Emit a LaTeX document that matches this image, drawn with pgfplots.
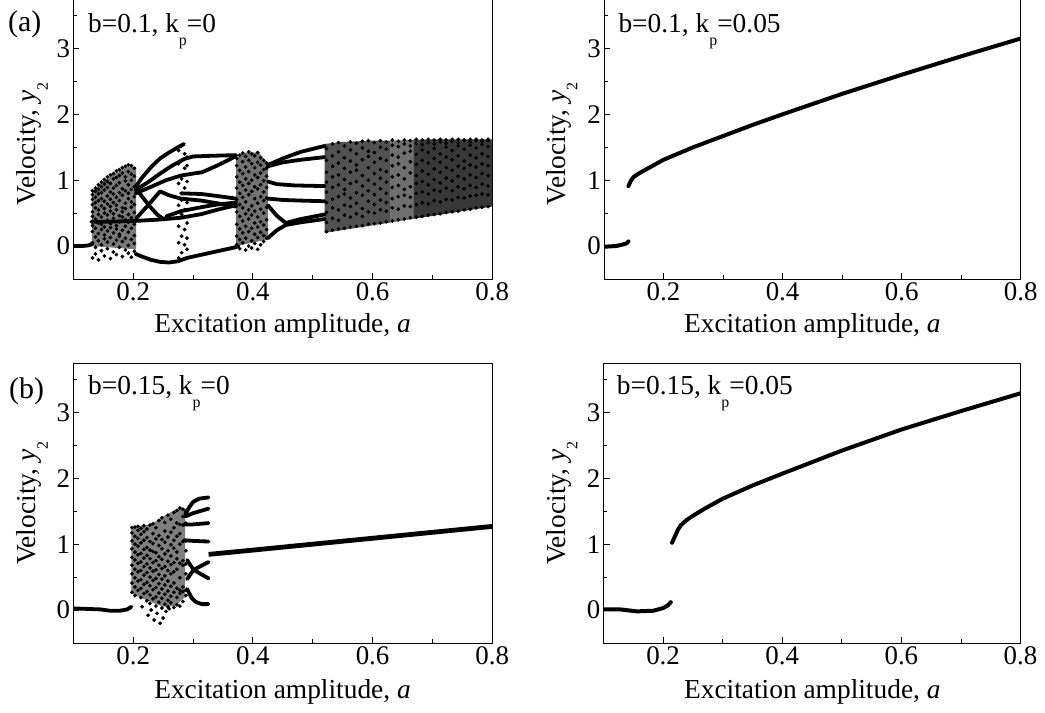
\documentclass[border=0pt]{standalone}
\usepackage{pgfplots}
\pgfplotsset{compat=1.18}
\usepackage{pgfplotstable}
\usepackage{fontspec}
\setmainfont{Liberation Serif}
\newcommand{\sub}[1]{\raisebox{-0.45em}{\fontsize{16}{16}\selectfont #1}}
\newcommand{\lbl}{\fontsize{27.5}{30}\selectfont}

\pgfplotsset{
 panel/.style={
  scale only axis, width=419bp, height=280bp,
  xmin=0.1,xmax=0.8,ymin=-0.5,ymax=3.75,
  xtick={0.2,0.4,0.6,0.8}, xticklabels={0.2,0.4,0.6,0.8},
  minor xtick={0.3,0.5,0.7},
  ytick={0,1,2,3}, yticklabels={0,1,2,3},
  minor ytick={0.5,1.5,2.5,3.5},
  tick align=inside, tick pos=left,
  major tick length=6bp, minor tick length=3.5bp,
  every tick/.style={black, line width=0.8bp},
  axis line style={line width=0.9bp},
  ticklabel style={font=\fontsize{27}{27}\selectfont},
  yticklabel style={inner xsep=3bp},
 },
 br/.style={black, line width=3.8bp, line join=round, line cap=round},
 dots/.style={only marks, mark=*, mark size=1.7bp, mark options={fill=black, draw=none}},
 band/.style={fill=black, draw=none},
}

% ---------- panel (a) left, chaotic dots ----------
\pgfplotstableread{
x y1 y2 y3 y4 y5 y6 y7 y8 y9 y10
0.132 -0.18 0.05 0.22 0.31 0.45 0.52 0.63 0.71 0.78 0.84
0.137 -0.12 -0.02 0.14 0.27 0.41 0.58 0.66 0.74 0.83 0.88
0.142 -0.21 0.08 0.19 0.35 0.48 0.55 0.69 0.79 0.86 0.93
0.147 -0.07 0.02 0.25 0.33 0.44 0.61 0.72 0.81 0.90 0.97
0.152 -0.15 0.11 0.17 0.29 0.50 0.57 0.68 0.85 0.94 1.01
0.157 -0.04 0.06 0.23 0.39 0.47 0.64 0.76 0.89 0.98 1.05
0.162 -0.19 0.13 0.28 0.34 0.53 0.60 0.71 0.82 0.95 1.08
0.167 -0.09 0.03 0.20 0.42 0.49 0.66 0.79 0.88 1.02 1.10
0.172 -0.13 0.09 0.26 0.31 0.55 0.62 0.74 0.92 1.04 1.14
0.177 -0.02 0.15 0.18 0.37 0.46 0.69 0.81 0.96 1.07 1.16
0.182 -0.16 0.07 0.24 0.44 0.52 0.58 0.77 0.87 1.11 1.19
0.187 -0.06 0.12 0.30 0.40 0.57 0.65 0.84 0.99 1.05 1.21
0.192 -0.11 0.01 0.21 0.36 0.48 0.72 0.80 0.93 1.13 1.23
0.197 -0.17 0.10 0.27 0.43 0.59 0.67 0.86 1.00 1.09 1.22
0.202 -0.08 0.04 0.16 0.33 0.51 0.63 0.75 0.90 1.06 1.18
}\tlA
\pgfplotstableread{
x y1 y2 y3 y4 y5 y6 y7
0.276 -0.18 0.05 0.30 0.62 0.95 1.25 1.45
0.281 -0.10 0.15 0.48 0.70 1.02 1.30 1.52
0.286 -0.20 0.02 0.25 0.55 0.88 1.18 1.40
0.290 -0.05 0.12 0.35 0.66 0.98 1.22 1.35
}\tlB
\pgfplotstableread{
x y1 y2 y3 y4 y5 y6 y7 y8 y9
0.373 0.02 0.15 0.33 0.52 0.70 0.88 1.05 1.22 1.33
0.378 -0.04 0.10 0.26 0.45 0.63 0.80 0.97 1.15 1.38
0.383 0.05 0.20 0.38 0.58 0.74 0.92 1.10 1.28 1.41
0.388 -0.06 0.12 0.30 0.49 0.67 0.85 1.02 1.20 1.36
0.393 0.00 0.22 0.41 0.55 0.78 0.95 1.13 1.30 1.43
0.398 -0.03 0.08 0.27 0.47 0.61 0.83 1.00 1.25 1.40
0.403 0.04 0.18 0.35 0.53 0.72 0.90 1.08 1.19 1.37
0.408 -0.05 0.13 0.29 0.44 0.65 0.87 1.04 1.27 1.42
0.413 0.02 0.21 0.37 0.56 0.75 0.93 1.11 1.23 1.34
0.418 0.07 0.16 0.32 0.50 0.69 0.82 0.99 1.16 1.30
0.423 0.12 0.25 0.40 0.59 0.73 0.89 1.06 1.18 1.26
}\tlC
\pgfplotstableread{
x y1 y2 y3 y4 y5 y6 y7 y8 y9
0.523 0.22 0.36 0.51 0.66 0.82 0.97 1.12 1.30 1.48
0.533 0.24 0.42 0.58 0.71 0.89 1.05 1.21 1.37 1.55
0.543 0.26 0.39 0.55 0.75 0.93 1.08 1.26 1.43 1.57
0.553 0.27 0.47 0.62 0.79 0.86 1.01 1.18 1.34 1.52
0.563 0.29 0.44 0.60 0.73 0.95 1.12 1.29 1.46 1.58
0.573 0.30 0.49 0.65 0.81 0.98 1.15 1.23 1.40 1.56
0.583 0.31 0.45 0.57 0.77 0.91 1.07 1.31 1.49 1.59
0.593 0.33 0.52 0.68 0.84 1.00 1.19 1.36 1.44 1.60
0.603 0.34 0.50 0.63 0.78 0.94 1.10 1.27 1.42 1.57
0.613 0.35 0.55 0.70 0.87 1.03 1.16 1.33 1.50 1.60
0.623 0.37 0.53 0.66 0.80 0.97 1.13 1.30 1.47 1.58
0.633 0.38 0.58 0.72 0.89 1.05 1.22 1.38 1.53 1.61
0.643 0.40 0.56 0.75 0.92 1.08 1.25 1.35 1.51 1.59
0.653 0.41 0.61 0.77 0.86 1.02 1.19 1.41 1.55 1.61
0.663 0.43 0.60 0.74 0.90 1.11 1.28 1.44 1.52 1.60
0.673 0.44 0.63 0.80 0.95 1.07 1.24 1.39 1.56 1.62
0.683 0.45 0.66 0.82 0.98 1.14 1.30 1.46 1.54 1.61
0.693 0.47 0.64 0.79 0.93 1.09 1.26 1.42 1.57 1.62
0.703 0.48 0.69 0.85 1.01 1.17 1.33 1.48 1.55 1.61
0.713 0.49 0.67 0.83 0.96 1.12 1.27 1.40 1.58 1.62
0.723 0.51 0.71 0.88 1.03 1.19 1.35 1.50 1.56 1.61
0.733 0.52 0.70 0.84 0.99 1.15 1.31 1.45 1.59 1.62
0.743 0.53 0.74 0.90 1.06 1.21 1.37 1.52 1.57 1.62
0.753 0.55 0.73 0.87 1.02 1.18 1.29 1.47 1.60 1.61
0.763 0.56 0.76 0.92 1.08 1.23 1.38 1.53 1.58 1.62
0.773 0.58 0.77 0.89 1.04 1.20 1.34 1.49 1.60 1.62
0.783 0.59 0.79 0.94 1.10 1.25 1.40 1.54 1.59 1.61
0.793 0.60 0.78 0.91 1.07 1.22 1.36 1.51 1.60 1.62
}\tlD
% ---------- panel (b) left, chaotic dots ----------
\pgfplotstableread{
x y1 y2 y3 y4 y5 y6 y7 y8 y9
0.198 0.27 0.41 0.55 0.68 0.80 0.93 1.05 1.17 1.25
0.203 0.22 0.35 0.49 0.62 0.76 0.88 1.00 1.12 1.26
0.208 0.30 0.44 0.58 0.71 0.84 0.97 1.09 1.21 1.27
0.213 0.19 0.33 0.46 0.60 0.73 0.86 1.02 1.15 1.24
0.218 0.25 0.39 0.53 0.66 0.79 0.92 1.06 1.19 1.28
0.223 0.14 0.28 0.42 0.57 0.70 0.83 0.95 1.10 1.23
0.228 0.10 0.23 0.37 0.50 0.64 0.78 0.91 1.04 1.29
0.233 0.17 0.31 0.45 0.59 0.72 0.89 1.01 1.16 1.31
0.238 0.06 0.20 0.34 0.48 0.61 0.75 0.87 1.08 1.25
0.243 0.12 0.26 0.40 0.54 0.68 0.81 0.98 1.13 1.36
0.248 0.03 0.18 0.32 0.47 0.63 0.77 0.93 1.07 1.40
0.253 0.09 0.24 0.38 0.52 0.66 0.85 1.03 1.20 1.33
0.258 0.05 0.15 0.29 0.44 0.60 0.74 0.90 1.11 1.44
0.263 0.11 0.21 0.36 0.55 0.69 0.82 0.99 1.18 1.38
0.268 0.04 0.27 0.41 0.58 0.72 0.94 1.06 1.25 1.48
0.273 0.08 0.19 0.33 0.62 0.78 0.88 1.12 1.32 1.51
0.278 0.06 0.25 0.30 0.49 0.71 1.00 1.16 1.30 1.55
0.283 0.13 0.28 0.35 0.68 0.75 1.04 1.29 1.42 1.53
0.288 0.22 0.30 0.55 0.70 0.90 1.05 1.32 1.46 1.50
}\blA

\begin{document}
\begin{tikzpicture}
\useasboundingbox (0,0) rectangle (1045bp,713bp);

% ================= (a) left: b=0.1, kp=0 =================
\begin{axis}[panel, at={(73.3bp,434bp)}, anchor=south west]
\addplot[band, fill opacity=0.52] coordinates {(0.131,0.0) (0.131,0.82) (0.145,0.95) (0.16,1.05) (0.175,1.13) (0.19,1.2) (0.205,1.2) (0.205,-0.05)} -- cycle;
\addplot[band, fill opacity=0.55] coordinates {(0.372,0.0) (0.372,1.33) (0.385,1.42) (0.41,1.42) (0.425,1.25) (0.425,0.1)} -- cycle;
\addplot[band, fill opacity=0.68] coordinates {(0.52,0.2) (0.52,1.55) (0.55,1.58) (0.6,1.6) (0.63,1.6) (0.63,0.357)} -- cycle;
\addplot[band, fill opacity=0.56] coordinates {(0.63,0.357) (0.63,1.6) (0.668,1.61) (0.668,0.412)} -- cycle;
\addplot[band, fill opacity=0.78] coordinates {(0.668,0.412) (0.668,1.61) (0.7,1.62) (0.8,1.62) (0.8,0.6)} -- cycle;
\pgfplotsinvokeforeach{1,...,10}{\addplot[dots] table[x=x,y=y#1]{\tlA};}
\pgfplotsinvokeforeach{1,...,7}{\addplot[dots] table[x=x,y=y#1]{\tlB};}
\pgfplotsinvokeforeach{1,...,9}{\addplot[dots] table[x=x,y=y#1]{\tlC};}
\pgfplotsinvokeforeach{1,...,9}{\addplot[dots] table[x=x,y=y#1]{\tlD};}
% periodic branches
\addplot[br] coordinates {(0.1,0.0) (0.115,0.0) (0.125,0.01) (0.132,0.03)};
\addplot[br] coordinates {(0.204,-0.12) (0.215,-0.16) (0.23,-0.21) (0.245,-0.24) (0.26,-0.25) (0.275,-0.23) (0.29,-0.18) (0.31,-0.14) (0.33,-0.1) (0.35,-0.06) (0.37,-0.02) (0.376,0.0)};
\addplot[br] coordinates {(0.13,0.37) (0.16,0.37) (0.2,0.38) (0.24,0.4) (0.28,0.43) (0.314,0.485) (0.34,0.55) (0.372,0.62)};
\addplot[br] coordinates {(0.205,0.42) (0.225,0.62) (0.245,0.83) (0.26,0.77) (0.28,0.72) (0.314,0.69) (0.34,0.65) (0.372,0.6)};
\addplot[br] coordinates {(0.28,0.80) (0.314,0.79) (0.34,0.76) (0.372,0.72)};
\addplot[br] coordinates {(0.255,0.45) (0.28,0.53) (0.314,0.59) (0.34,0.63) (0.372,0.66)};
\addplot[br] coordinates {(0.204,0.88) (0.215,0.75) (0.228,0.6) (0.24,0.48) (0.252,0.40)};
\addplot[br] coordinates {(0.204,0.9) (0.215,1.04) (0.23,1.2) (0.245,1.33) (0.26,1.42) (0.275,1.5) (0.285,1.55)};
\addplot[br] coordinates {(0.204,0.85) (0.225,0.97) (0.245,1.1) (0.265,1.22) (0.285,1.32) (0.3,1.36) (0.33,1.37) (0.372,1.38)};
\addplot[br] coordinates {(0.204,0.8) (0.23,0.9) (0.255,1.0) (0.28,1.07) (0.3,1.1) (0.315,1.12) (0.34,1.22) (0.36,1.31) (0.372,1.37)};
\addplot[br] coordinates {(0.425,1.23) (0.45,1.33) (0.48,1.43) (0.52,1.52)};
\addplot[br] coordinates {(0.425,1.21) (0.45,1.27) (0.48,1.31) (0.52,1.35)};
\addplot[br] coordinates {(0.425,0.98) (0.44,0.94) (0.47,0.92) (0.52,0.91)};
\addplot[br] coordinates {(0.425,0.72) (0.45,0.70) (0.48,0.69) (0.52,0.68)};
\addplot[br] coordinates {(0.425,0.62) (0.44,0.46) (0.455,0.35) (0.48,0.41) (0.52,0.48)};
\addplot[br] coordinates {(0.425,0.12) (0.44,0.24) (0.455,0.32) (0.48,0.36) (0.52,0.41)};
\end{axis}

% ================= (a) right: b=0.1, kp=0.05 =================
\begin{axis}[panel, width=416.7bp, at={(604bp,434bp)}, anchor=south west]
\addplot[br, line width=4bp] coordinates {(0.1,-0.01) (0.12,0.0) (0.13,0.02) (0.138,0.04) (0.141,0.07)};
\addplot[br, line width=4bp] coordinates {(0.141,0.91) (0.145,0.99) (0.15,1.05) (0.16,1.11) (0.18,1.21) (0.2,1.31) (0.25,1.50) (0.3,1.67) (0.35,1.84) (0.4,2.0) (0.5,2.31) (0.6,2.6) (0.7,2.88) (0.8,3.15)};
\end{axis}

% ================= (b) left: b=0.15, kp=0 =================
\begin{axis}[panel, at={(73.3bp,70bp)}, anchor=south west]
\addplot[band, fill opacity=0.5] coordinates {(0.197,0.25) (0.197,1.26) (0.23,1.3) (0.25,1.42) (0.27,1.52) (0.287,1.55) (0.287,0.2) (0.27,0.06) (0.25,0.05) (0.23,0.12) (0.21,0.2)} -- cycle;
\pgfplotsinvokeforeach{1,...,9}{\addplot[dots] table[x=x,y=y#1]{\blA};}
\addplot[dots] coordinates {(0.225,-0.08) (0.235,-0.15) (0.245,-0.2) (0.25,-0.12) (0.24,-0.05) (0.23,0.0) (0.255,-0.02) (0.26,0.02) (0.215,0.05)};
\addplot[br] coordinates {(0.1,0.025) (0.145,0.01) (0.161,-0.01) (0.178,-0.01) (0.19,0.01) (0.197,0.05)};
\addplot[br] coordinates {(0.287,1.45) (0.293,1.55) (0.3,1.64) (0.31,1.69) (0.326,1.71)};
\addplot[br] coordinates {(0.287,1.42) (0.3,1.47) (0.326,1.54)};
\addplot[br] coordinates {(0.285,1.3) (0.3,1.3) (0.326,1.32)};
\addplot[br] coordinates {(0.285,1.06) (0.3,1.05) (0.326,1.04)};
\addplot[br] coordinates {(0.29,0.76) (0.301,0.61) (0.326,0.48)};
\addplot[br] coordinates {(0.29,0.47) (0.301,0.61) (0.326,0.73)};
\addplot[br] coordinates {(0.29,0.32) (0.298,0.18) (0.305,0.12) (0.315,0.09) (0.326,0.09)};
\addplot[br, line width=4.8bp, line cap=butt] coordinates {(0.326,0.845) (0.4,0.91) (0.5,1.0) (0.6,1.09) (0.7,1.18) (0.8,1.27)};
\end{axis}

% ================= (b) right: b=0.15, kp=0.05 =================
\begin{axis}[panel, width=417bp, at={(603.5bp,70bp)}, anchor=south west]
\addplot[br, line width=4bp] coordinates {(0.1,0.01) (0.128,0.01) (0.156,-0.02) (0.184,-0.01) (0.2,0.03) (0.208,0.07) (0.213,0.12)};
\addplot[br, line width=4bp] coordinates {(0.215,1.02) (0.22,1.12) (0.225,1.22) (0.23,1.29) (0.24,1.37) (0.25,1.43) (0.27,1.54) (0.3,1.69) (0.35,1.89) (0.4,2.07) (0.5,2.42) (0.6,2.74) (0.7,3.02) (0.8,3.29)};
\end{axis}

% ================= texts =================
\node[anchor=base, inner sep=0, font=\lbl] at (282.5bp,380bp) {Excitation amplitude, \textit{a}};
\node[anchor=base, inner sep=0, font=\lbl] at (812.3bp,380bp) {Excitation amplitude, \textit{a}};
\node[anchor=base, inner sep=0, font=\lbl] at (282.5bp,14.5bp) {Excitation amplitude, \textit{a}};
\node[anchor=base, inner sep=0, font=\lbl] at (812.3bp,14.5bp) {Excitation amplitude, \textit{a}};
\node[rotate=90, anchor=base, inner sep=0, font=\lbl] at (35.5bp,569bp) {Velocity, \textit{y}\sub{2}};
\node[rotate=90, anchor=base, inner sep=0, font=\lbl] at (565bp,569bp) {Velocity, \textit{y}\sub{2}};
\node[rotate=90, anchor=base, inner sep=0, font=\lbl] at (35.5bp,209.7bp) {Velocity, \textit{y}\sub{2}};
\node[rotate=90, anchor=base, inner sep=0, font=\lbl] at (565bp,209.7bp) {Velocity, \textit{y}\sub{2}};
\node[anchor=base west, inner sep=0, font=\lbl] at (88bp,680bp) {b=0.1, k\sub{p}=0};
\node[anchor=base west, inner sep=0, font=\lbl] at (618.3bp,680bp) {b=0.1, k\sub{p}=0.05};
\node[anchor=base west, inner sep=0, font=\lbl] at (88bp,318bp) {b=0.15, k\sub{p}=0};
\node[anchor=base west, inner sep=0, font=\lbl] at (616.7bp,318bp) {b=0.15, k\sub{p}=0.05};
\node[anchor=base west, inner sep=0, font=\fontsize{30}{30}\selectfont] at (8bp,681bp) {(a)};
\node[anchor=base west, inner sep=0, font=\fontsize{30}{30}\selectfont] at (9bp,314bp) {(b)};
\end{tikzpicture}
\end{document}
